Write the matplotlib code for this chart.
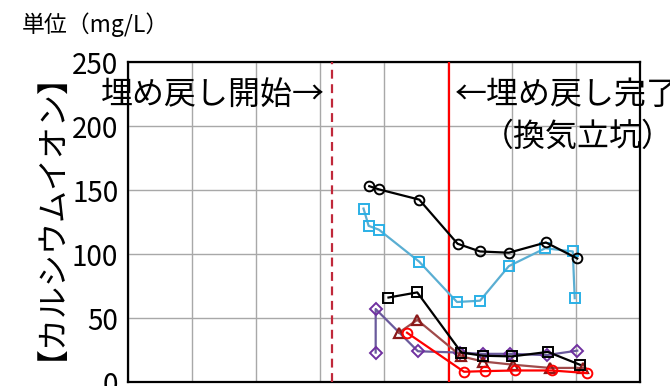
import matplotlib
matplotlib.use("Agg")
import matplotlib.pyplot as plt

plt.rcParams["font.family"] = ["Noto Sans CJK JP", "DejaVu Sans"]

# 横軸は目盛り間隔を1とした位置（日付の代わり）
start_x = 3.19      # 埋め戻し開始
end_x = 5.02        # 埋め戻し完了（換気立坑）

# 各測点のカルシウムイオン濃度 (mg/L)
s1_x = [3.77, 3.92, 4.55, 5.15, 5.50, 5.95, 6.53, 7.02]
s1_y = [153, 150.5, 142.5, 108, 102, 101, 109, 96.5]

s2_x = [3.68, 3.76, 3.92, 4.55, 5.14, 5.50, 5.95, 6.52, 6.95, 6.98]
s2_y = [135.5, 122, 119, 94, 62.5, 63.5, 90.5, 104.5, 102, 65.5]

s3_x = [4.07, 4.52, 5.21, 5.55, 6.00, 6.56, 7.06]
s3_y = [66, 70, 23, 20.5, 20, 23.5, 13.5]

s4_x = [3.87, 3.87, 4.53, 5.18, 5.54, 5.97, 6.54, 7.02]
s4_y = [23, 57, 24, 23, 22, 22, 21, 24.5]

s5_x = [4.23, 4.52, 5.21, 5.55, 6.02, 6.59, 7.11]
s5_y = [38.5, 48.5, 20, 16, 13.5, 11, 11]

s6_x = [4.36, 5.25, 5.58, 6.05, 6.62, 7.17]
s6_y = [38.5, 8, 8.5, 9, 9, 7]

yticks = [0, 50, 100, 150, 200, 250]

fig = plt.figure(figsize=(6.7, 3.86), dpi=100)
ax = fig.add_axes([128 / 670, 4 / 386, 512 / 670, 320 / 386])

ax.plot(s1_x, s1_y, color="black", lw=1.6, marker="o", ms=7,
        mfc="none", mec="black", mew=1.4, zorder=5)
ax.plot(s2_x, s2_y, color="#5aaed2", lw=1.6, marker="s", ms=6.5,
        mfc="none", mec="#2ab0e6", mew=1.4, zorder=4)
ax.plot(s3_x, s3_y, color="black", lw=1.6, marker="s", ms=6.5,
        mfc="none", mec="black", mew=1.4, zorder=5)
ax.plot(s4_x, s4_y, color="#6a5a9c", lw=1.6, marker="D", ms=6,
        mfc="none", mec="#7030a0", mew=1.4, zorder=4)
ax.plot(s5_x, s5_y, color="#a04a4a", lw=1.6, marker="^", ms=6.5,
        mfc="none", mec="#8b1a1a", mew=1.6, zorder=4)
ax.plot(s6_x, s6_y, color="#ff0000", lw=1.6, marker="o", ms=7,
        mfc="none", mec="#ff0000", mew=1.4, zorder=4)

ax.axvline(start_x, color="#c0283a", lw=1.6, ls=(0, (4, 2.5)), zorder=3)
ax.axvline(end_x, color="#ff0000", lw=1.6, zorder=3)

ax.set_xlim(0, 8)
ax.set_ylim(0, 250)
ax.set_xticks(range(9))
ax.set_xticklabels([])
ax.set_yticks(yticks)
ax.set_yticklabels([str(v) for v in yticks], fontsize=20)
ax.tick_params(length=0, pad=7)
ax.grid(color="#a8a8a8", lw=1)
for sp in ax.spines.values():
    sp.set_linewidth(1.6)
    sp.set_color("black")

ax.text(3.08, 224, "埋め戻し開始→", fontsize=23, ha="right", va="center", zorder=6)
ax.text(5.10, 224, "←埋め戻し完了", fontsize=23, ha="left", va="center",
        clip_on=False, zorder=6)
ax.text(7.03, 191.5, "（換気立坑）", fontsize=23, ha="center", va="center",
        clip_on=False, zorder=6)

fig.text(22 / 670, 1 - 25 / 386, "単位（mg/L）", fontsize=16.5, ha="left", va="center")
fig.text(35 / 670, 1 - 200 / 386, "【カルシウムイオン】", fontsize=23,
         rotation=90, ha="center", va="center")

fig.savefig("out.png", dpi=100)
